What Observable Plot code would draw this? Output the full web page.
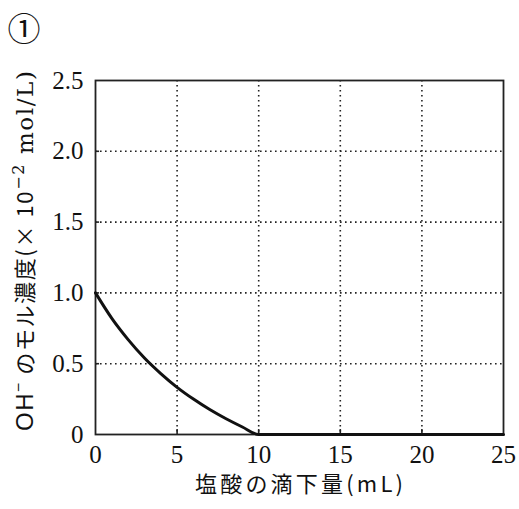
<!DOCTYPE html>
<html><head><meta charset="utf-8">
<script src="https://cdn.jsdelivr.net/npm/d3@7"></script>
<script src="https://cdn.jsdelivr.net/npm/@observablehq/plot@0.6"></script>
<style>body{margin:0;background:#fff;} svg{display:block;}</style>
</head><body><div id="chart"></div>
<script>
const volume = [0, 1, 2, 3, 4, 5, 6, 7, 8, 9, 10, 25];
const ohConc = [1.0, 0.82, 0.67, 0.54, 0.43, 0.333, 0.25, 0.176, 0.111, 0.053, 0, 0];
const xTicks = [0, 5, 10, 15, 20, 25];
const xTickLabels = ["0", "5", "10", "15", "20", "25"];
const yTicks = [0, 0.5, 1.0, 1.5, 2.0, 2.5];
const yTickLabels = ["0", "0.5", "1.0", "1.5", "2.0", "2.5"];
const xGrid = [5, 10, 15, 20];
const yGrid = [0.5, 1.0, 1.5, 2.0];

const data = volume.map((v, i) => ({v, c: ohConc[i]}));
const serif = "'Liberation Serif', 'DejaVu Serif', serif";

const plot = Plot.plot({
  width: 519, height: 509,
  marginLeft: 95, marginRight: 16, marginTop: 80, marginBottom: 75,
  style: {fontFamily: serif, color: "#111", background: "#fff"},
  x: {domain: [0, 25], axis: null},
  y: {domain: [0, 2.5], axis: null},
  marks: [
    Plot.ruleX(xGrid, {stroke: "#222", strokeWidth: 1.6, strokeDasharray: "1.6,3.4"}),
    Plot.ruleY(yGrid, {stroke: "#222", strokeWidth: 1.6, strokeDasharray: "1.6,3.4"}),
    Plot.ruleX(xGrid, {y1: 0, y2: 0.035, stroke: "#222", strokeWidth: 1.6}),
    Plot.ruleY(yGrid, {x1: 0, x2: 0.25, stroke: "#222", strokeWidth: 1.6}),
    Plot.frame({stroke: "#222", strokeWidth: 1.8}),
    Plot.text(xTicks, {x: d => d, y: 0, text: (d, i) => xTickLabels[i], dy: 20,
      fontSize: 25, fontFamily: serif, fill: "#111"}),
    Plot.text(yTicks, {x: 0, y: d => d, text: (d, i) => yTickLabels[i], dx: -12,
      textAnchor: "end", fontSize: 25, fontFamily: serif, fill: "#111"}),
    Plot.line(data, {x: "v", y: "c", curve: "monotone-x", stroke: "#111", strokeWidth: 3})
  ]
});

const svg = d3.select(plot);

svg.append("text")
  .attr("x", 299).attr("y", 492)
  .attr("text-anchor", "middle")
  .attr("font-family", "'Noto Sans CJK JP', serif")
  .attr("font-size", 22).attr("fill", "#111")
  .attr("textLength", 208).attr("lengthAdjust", "spacing")
  .text("塩酸の滴下量(mL)");

const yl = svg.append("text")
  .attr("transform", "translate(33,251) rotate(-90)")
  .attr("text-anchor", "middle")
  .attr("font-size", 22).attr("fill", "#111")
  .attr("font-family", "'Noto Sans CJK JP', serif")
  .attr("textLength", 360).attr("lengthAdjust", "spacing");
yl.append("tspan").attr("font-family", "'Liberation Sans', sans-serif").attr("font-size", 24).text("OH");
yl.append("tspan").attr("dy", -9).attr("font-size", 16).text("−");
yl.append("tspan").attr("dy", 9).text(" のモル濃度(× 10");
yl.append("tspan").attr("dy", -9).attr("font-size", 16).attr("font-family", "'DejaVu Serif', serif").text("−2");
yl.append("tspan").attr("dy", 9).attr("font-family", "'DejaVu Serif', serif").attr("font-size", 23).text(" mol/L)");

svg.append("text")
  .attr("x", 24).attr("y", 41)
  .attr("text-anchor", "middle")
  .attr("font-family", "'Noto Sans CJK JP', sans-serif")
  .attr("font-size", 33).attr("fill", "#111")
  .text("①");

document.getElementById("chart").appendChild(plot);
</script></body></html>
